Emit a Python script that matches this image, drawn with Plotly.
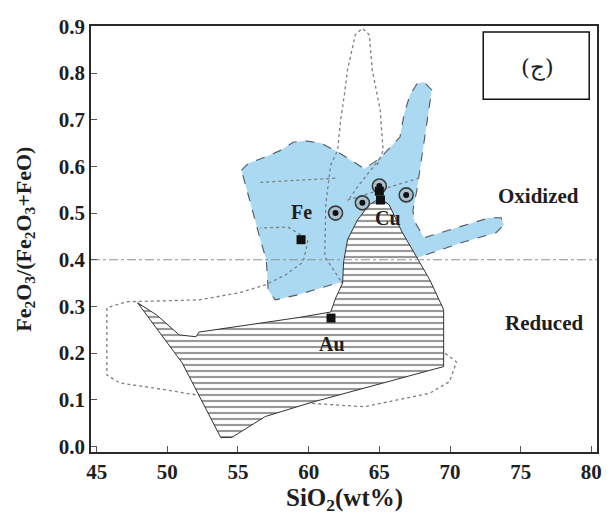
import plotly.graph_objects as go

# ---- axis ticks -------------------------------------------------------------
x_ticks = [45, 50, 55, 60, 65, 70, 75, 80]
y_ticks = [0.0, 0.1, 0.2, 0.3, 0.4, 0.5, 0.6, 0.7, 0.8, 0.9]
oxidation_boundary = 0.4

# ---- Fe field (blue) ----------------------------------------------------------
fe_field_x = [55.25, 55.74, 56.93, 58.05, 58.9, 59.74, 60.86, 62.05, 62.96, 63.94,
              65.06, 65.97, 66.46, 66.74, 67.16, 67.66, 68.15, 68.71, 68.5, 68.22,
              67.94, 67.66, 67.38, 67.45, 68.15, 70.46, 72.77, 73.61, 73.82, 73.26,
              70.95, 67.66, 64.85, 62.4, 61.56, 59.25, 57.63, 57.14, 57.0, 56.58,
              56.09, 55.6, 55.25]
fe_field_y = [0.592, 0.607, 0.620, 0.635, 0.652, 0.655, 0.650, 0.631, 0.614, 0.595,
              0.618, 0.646, 0.663, 0.710, 0.753, 0.777, 0.781, 0.764, 0.721, 0.663,
              0.603, 0.550, 0.507, 0.485, 0.447, 0.468, 0.490, 0.490, 0.475, 0.458,
              0.438, 0.404, 0.378, 0.353, 0.346, 0.325, 0.314, 0.335, 0.400, 0.443,
              0.496, 0.550, 0.592]

# ---- Cu / Au field (hatched) --------------------------------------------------
cuau_field_x = [65.06, 65.69, 66.6, 67.66, 68.57, 69.55, 69.55, 60.16, 56.93, 54.55,
                53.78, 51.05, 47.89, 49.23, 50.84, 52.03, 52.24, 59.25, 61.56, 61.91,
                62.4, 62.47, 62.75, 63.45, 64.29, 65.06]
cuau_field_y = [0.532, 0.518, 0.460, 0.404, 0.357, 0.293, 0.171, 0.094, 0.064, 0.019,
                0.019, 0.179, 0.308, 0.282, 0.239, 0.235, 0.245, 0.276, 0.288, 0.318,
                0.350, 0.395, 0.443, 0.485, 0.518, 0.532]

# ---- dotted reference outlines ------------------------------------------------
outline_a_x = [64.85, 65.27, 65.06, 64.5, 64.29, 63.8, 63.3, 62.75, 62.54, 62.26, 62.05,
               61.56, 61.21, 61.14, 62.54, 66.25, 69.55, 70.46, 69.97, 68.57, 63.94,
               59.25, 56.44, 52.94, 49.93, 46.63, 45.72, 45.72, 47.12, 52.24, 55.04,
               56.93, 58.33, 59.6, 59.81, 59.95, 58.55, 56.58]
outline_a_y = [0.603, 0.635, 0.721, 0.807, 0.882, 0.896, 0.882, 0.807, 0.757, 0.699,
               0.635, 0.603, 0.520, 0.407, 0.342, 0.252, 0.202, 0.181, 0.139, 0.114,
               0.085, 0.094, 0.100, 0.106, 0.121, 0.136, 0.153, 0.297, 0.310, 0.314,
               0.329, 0.346, 0.367, 0.395, 0.421, 0.443, 0.470, 0.468]
outline_b_x = [56.58, 59.74, 62.05]
outline_b_y = [0.566, 0.572, 0.575]
outline_c_x = [65.06, 63.45, 62.75]
outline_c_y = [0.618, 0.556, 0.525]
outline_d_x = [62.75, 66.95, 67.8]
outline_d_y = [0.528, 0.566, 0.575]

# ---- samples ----------------------------------------------------------------
ring_x = [61.9, 63.8, 65.0, 66.9]
ring_y = [0.500, 0.522, 0.558, 0.539]
square_x = [59.46, 65.0, 65.08, 61.58]
square_y = [0.443, 0.547, 0.528, 0.275]

field_labels = ["Fe", "Cu", "Au"]
field_label_x = [59.46, 65.6, 61.63]
field_label_y = [0.502, 0.490, 0.220]
zone_labels = ["Oxidized", "Reduced"]
zone_label_x = [76.27, 76.63]
zone_label_y = [0.537, 0.265]

SERIF = "Liberation Serif, Times New Roman, serif"
INK = "#1e1e1e"

fig = go.Figure()

fig.add_trace(go.Scatter(
    x=fe_field_x, y=fe_field_y, mode="lines", fill="toself",
    fillcolor="#abd9f1", line=dict(color="#4d5a66", width=1.1, dash="dash"),
    hoverinfo="skip", showlegend=False))

for ox, oy in [(outline_a_x, outline_a_y), (outline_b_x, outline_b_y),
               (outline_c_x, outline_c_y), (outline_d_x, outline_d_y)]:
    fig.add_trace(go.Scatter(
        x=ox, y=oy, mode="lines",
        line=dict(color="#7a7f86", width=1.3, dash="dot"),
        hoverinfo="skip", showlegend=False))

fig.add_trace(go.Scatter(
    x=cuau_field_x, y=cuau_field_y, mode="lines", fill="toself",
    fillcolor="white",
    fillpattern=dict(shape="-", size=6, solidity=0.36, fgcolor="#333333",
                     bgcolor="white"),
    line=dict(color="#333333", width=1),
    hoverinfo="skip", showlegend=False))

fig.add_trace(go.Scatter(
    x=[x_ticks[0] - 0.4, x_ticks[-1] + 0.4],
    y=[oxidation_boundary, oxidation_boundary], mode="lines",
    line=dict(color="#8a8f95", width=1.2, dash="dashdot"),
    hoverinfo="skip", showlegend=False))

fig.add_trace(go.Scatter(
    x=ring_x, y=ring_y, mode="markers",
    marker=dict(symbol="circle", size=14, color="rgba(170,175,180,0.55)",
                line=dict(color="#3c3c3c", width=1.6)),
    hoverinfo="skip", showlegend=False))
fig.add_trace(go.Scatter(
    x=ring_x, y=ring_y, mode="markers",
    marker=dict(symbol="circle", size=6, color="#111111"),
    hoverinfo="skip", showlegend=False))
fig.add_trace(go.Scatter(
    x=square_x, y=square_y, mode="markers",
    marker=dict(symbol="square", size=9, color="#111111"),
    hoverinfo="skip", showlegend=False))

for t, x, y in zip(field_labels, field_label_x, field_label_y):
    fig.add_annotation(x=x, y=y, text=f"<b>{t}</b>", showarrow=False,
                       xanchor="center", yanchor="middle",
                       font=dict(family=SERIF, size=20, color=INK))
for t, x, y in zip(zone_labels, zone_label_x, zone_label_y):
    fig.add_annotation(x=x, y=y, text=f"<b>{t}</b>", showarrow=False,
                       xanchor="center", yanchor="middle",
                       font=dict(family=SERIF, size=21, color=INK))

# panel tag box
fig.add_shape(type="rect", x0=72.35, x1=79.85, y0=0.744, y1=0.888,
              line=dict(color="#111111", width=1.5), fillcolor="white")
fig.add_annotation(x=76.2, y=0.811, text="(ج)", showarrow=False,
                   xanchor="center", yanchor="middle",
                   font=dict(family="DejaVu Serif, DejaVu Sans, serif", size=23, color=INK))

# axis titles
fig.add_annotation(xref="paper", yref="paper", x=0.501, y=-0.112,
                   xanchor="center", yanchor="middle",
                   text="<b>SiO<sub>2</sub>(wt%)</b>", showarrow=False,
                   font=dict(family=SERIF, size=25, color=INK))
fig.add_annotation(xref="paper", yref="paper", x=-0.131, y=0.5, textangle=-90,
                   xanchor="center", yanchor="middle",
                   text="<b>Fe<sub>2</sub>O<sub>3</sub>/(Fe<sub>2</sub>O<sub>3</sub>+FeO)</b>",
                   showarrow=False, font=dict(family=SERIF, size=22, color=INK))

axis_common = dict(showgrid=False, zeroline=False, showline=True, linecolor="#2a2a2a",
                   linewidth=1.6, mirror=True, ticks="inside", ticklen=6,
                   tickcolor="#555555", tickwidth=1,
                   tickfont=dict(family=SERIF, size=21, color=INK))

fig.update_xaxes(range=[44.6, 80.4], tickvals=x_ticks,
                 ticktext=[f"<b>{v}</b>" for v in x_ticks], **axis_common)
fig.update_yaxes(range=[-0.012, 0.901], tickvals=y_ticks,
                 ticktext=[f"<b>{v:.1f}</b>" for v in y_ticks], **axis_common)

fig.update_layout(width=612, height=517, margin=dict(l=91, r=10, t=26, b=65),
                  plot_bgcolor="white", paper_bgcolor="white")

fig.write_html("out.html")
